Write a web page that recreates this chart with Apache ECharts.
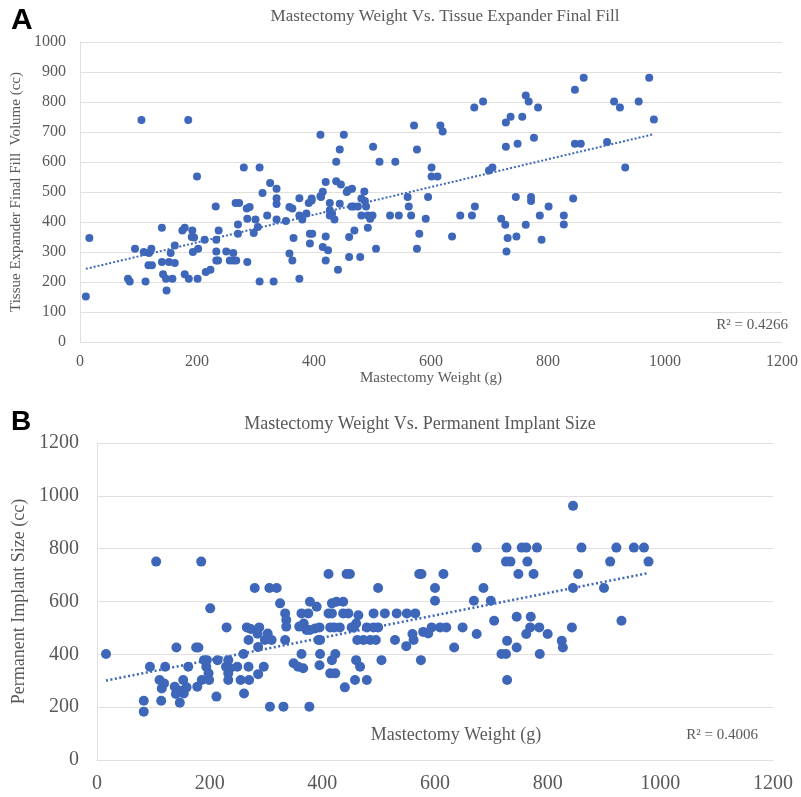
<!DOCTYPE html>
<html>
<head>
<meta charset="utf-8">
<script src="https://cdn.jsdelivr.net/npm/echarts@6/dist/echarts.min.js"></script>
<style>
html,body{margin:0;padding:0;background:#fff;}
#chart{width:801px;height:797px;}
</style>
</head>
<body>
<div id="chart"></div>
<script>
// Panel A: Mastectomy weight (g) vs tissue expander final fill volume (cc)
const aWeight = [105,185,200,280,307,325,336,312,336,375,396,411,451,444,438,501,512,539,420,438,446,458,465,456,486,415,411,481,
571,576,616,620,601,601,611,560,595,674,689,728,736,756,762,767,783,728,748,776,699,705,745,771,843,846,861,846,856,901,913,923,955,932,973,981,
10,16,94,82,85,112,109,118,122,117,123,140,140,142,148,147,152,155,158,162,162,175,179,179,186,192,191,195,193,202,201,213,215,223,232,233,237,233,233,236,250,256,262,262,267,266,272,270,270,286,285,290,286,297,300,304,307,320,331,336,336,352,358,363,358,363,365,375,380,375,387,391,396,393,397,393,412,415,420,420,424,427,431,427,427,435,441,444,460,460,464,468,475,469,479,481,487,489,492,500,492,496,506,530,545,
562,566,591,580,576,636,650,670,675,720,727,731,729,746,762,771,786,789,801,827,827];
const aFill = [740,740,552,582,582,530,511,497,479,479,478,691,691,642,601,651,601,601,533,536,525,506,511,500,502,501,486,478,
722,642,722,702,582,552,552,483,483,782,802,732,751,751,822,802,782,651,661,681,572,582,483,483,478,841,881,661,661,667,802,782,802,582,881,742,
152,347,311,211,202,202,300,297,311,256,256,381,267,226,172,211,267,297,211,322,263,372,381,226,211,372,350,348,300,311,211,341,233,241,452,341,372,302,272,272,302,272,272,297,272,463,463,392,361,267,445,450,411,363,408,383,202,422,202,460,408,403,450,445,295,272,347,422,408,211,428,463,472,361,361,328,483,317,352,272,306,439,428,422,463,408,241,461,283,350,452,452,452,372,283,422,470,452,422,422,381,411,311,422,422,
452,422,411,361,311,352,422,422,452,411,391,347,302,352,391,470,422,341,452,422,392];

// Panel B: Mastectomy weight (g) vs permanent implant size (cc)
const bWeight = [105,185,280,306,319,411,443,449,499,
572,576,615,600,674,686,727,754,762,781,726,734,764,748,775,845,860,854,845,900,911,922,953,971,979,
16,83,83,94,114,121,111,119,115,141,138,147,154,140,147,153,159,162,176,180,178,186,190,195,194,198,199,201,212,214,230,229,236,233,233,233,249,255,261,260,266,273,269,269,270,285,288,286,286,296,298,310,303,307,325,331,334,336,336,334,349,357,366,359,367,372,363,363,377,378,375,378,387,390,393,396,395,396,395,411,417,414,421,431,417,425,437,417,423,414,423,437,446,440,452,456,460,462,473,485,495,460,464,458,467,479,479,491,499,491,511,505,529,532,
550,565,549,560,562,575,579,588,594,600,609,620,634,649,669,674,699,705,718,726,728,728,745,745,762,769,770,785,786,800,825,827,843,931];
const bImplant = [751,751,651,651,651,704,704,704,651,
704,704,704,651,804,651,804,804,804,804,751,751,751,704,704,962,804,704,651,651,751,804,804,804,751,
401,224,183,353,224,353,303,290,271,426,277,262,252,250,217,303,275,353,426,426,277,303,378,378,353,328,303,574,240,378,502,353,347,328,378,303,353,303,252,401,502,496,454,353,303,478,502,428,325,353,454,454,479,202,593,202,555,530,505,454,366,353,347,505,517,492,401,555,202,599,555,492,498,580,454,454,359,401,502,555,555,502,502,502,593,599,599,378,401,328,328,555,555,275,502,502,517,454,454,454,454,378,548,303,353,303,502,502,502,555,555,378,454,555,
555,555,431,477,454,378,485,479,502,603,502,502,426,502,603,477,603,527,401,401,451,303,542,426,477,502,542,502,401,477,451,426,502,527];

const aR2Text = 'R² = 0.4266';
const bR2Text = 'R² = 0.4006';

function zip(xs, ys){ return xs.map((x,i)=>[x, ys[i]]); }
function trend(xs, ys){
  const n = xs.length;
  let sx=0, sy=0, sxx=0, sxy=0;
  for(let i=0;i<n;i++){ sx+=xs[i]; sy+=ys[i]; sxx+=xs[i]*xs[i]; sxy+=xs[i]*ys[i]; }
  const m = (n*sxy - sx*sy)/(n*sxx - sx*sx);
  const b = (sy - m*sx)/n;
  const x0 = Math.min(...xs), x1 = Math.max(...xs);
  return [[x0, m*x0+b],[x1, m*x1+b]];
}

const SERIF = 'Liberation Serif';
const TXT = '#595959';
const BLUE = '#3E67BA';
const GRID = '#e2dfdf';
const plain = v => String(v);

function xAx(gi, fs, margin){
  return {gridIndex:gi, type:'value', min:0, max:1200, interval:200,
    axisLine:{show:true, lineStyle:{color:GRID, width:1}}, axisTick:{show:false},
    splitLine:{show:false},
    axisLabel:{fontFamily:SERIF, fontSize:fs, color:TXT, margin:margin, formatter:plain}};
}
function yAx(gi, max, interval, fs, margin){
  return {gridIndex:gi, type:'value', min:0, max:max, interval:interval,
    axisLine:{show:true, lineStyle:{color:GRID, width:1}}, axisTick:{show:false},
    splitLine:{show:true, lineStyle:{color:GRID, width:1}},
    axisLabel:{fontFamily:SERIF, fontSize:fs, color:TXT, margin:margin, formatter:plain}};
}

const xa = xAx(0, 16, 12);
xa.name = 'Mastectomy Weight (g)';
xa.nameLocation = 'middle';
xa.nameGap = 26;
xa.nameTextStyle = {fontFamily:SERIF, fontSize:15, color:TXT};
const ya = yAx(0, 1000, 100, 16, 14);
ya.name = 'Tissue Expander Final Fill  Volume (cc)';
ya.nameLocation = 'middle';
ya.nameGap = 48;
ya.nameTextStyle = {fontFamily:SERIF, fontSize:15, color:TXT};
const xb = xAx(1, 20, 14);
const yb = yAx(1, 1200, 200, 20, 18);
yb.name = 'Permanent Implant Size (cc)';
yb.nameLocation = 'middle';
yb.nameGap = 66;
yb.nameTextStyle = {fontFamily:SERIF, fontSize:18, color:TXT};

const chart = echarts.init(document.getElementById('chart'), null, {renderer:'canvas'});
chart.setOption({
  backgroundColor:'#ffffff',
  animation:false,
  grid:[
    {left:80, top:42, width:703, height:300},
    {left:97, top:443, width:676, height:317}
  ],
  xAxis:[xa, xb],
  yAxis:[ya, yb],
  series:[
    {type:'scatter', xAxisIndex:0, yAxisIndex:0, data:zip(aWeight, aFill), symbolSize:8,
     itemStyle:{color:BLUE, opacity:1}},
    {type:'line', xAxisIndex:0, yAxisIndex:0, data:trend(aWeight, aFill), symbol:'none',
     lineStyle:{color:BLUE, width:2, type:[2,2]}, z:3},
    {type:'scatter', xAxisIndex:1, yAxisIndex:1, data:zip(bWeight, bImplant), symbolSize:10,
     itemStyle:{color:BLUE, opacity:1}},
    {type:'line', xAxisIndex:1, yAxisIndex:1, data:trend(bWeight, bImplant), symbol:'none',
     lineStyle:{color:BLUE, width:2.5, type:[2,2.5]}, z:3}
  ],
  graphic:[
    {type:'text', left:11, top:6, style:{text:'A', fontFamily:'Liberation Sans', fontWeight:'bold', fontSize:30, fill:'#000'}},
    {type:'text', left:11, top:408, style:{text:'B', fontFamily:'Liberation Sans', fontWeight:'bold', fontSize:28, fill:'#000'}},
    {type:'text', x:445, y:17, style:{text:'Mastectomy Weight Vs. Tissue Expander Final Fill', fontFamily:SERIF, fontSize:17, fill:TXT, align:'center', verticalAlign:'middle'}},
    {type:'text', x:420, y:424, style:{text:'Mastectomy Weight Vs. Permanent Implant Size', fontFamily:SERIF, fontSize:18, fill:TXT, align:'center', verticalAlign:'middle'}},
    {type:'text', x:788, y:325, style:{text:aR2Text, fontFamily:SERIF, fontSize:15, fill:TXT, align:'right', verticalAlign:'middle'}},
    {type:'text', x:758, y:735, style:{text:bR2Text, fontFamily:SERIF, fontSize:15, fill:TXT, align:'right', verticalAlign:'middle'}},
    {type:'text', x:456, y:735, style:{text:'Mastectomy Weight (g)', fontFamily:SERIF, fontSize:18, fill:TXT, align:'center', verticalAlign:'middle'}}
  ]
});
</script>
</body>
</html>
